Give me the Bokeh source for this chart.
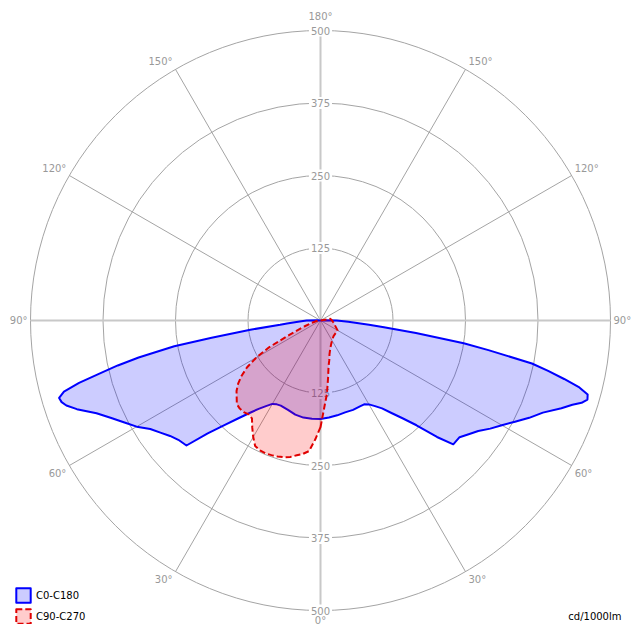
import math
from bokeh.plotting import figure
from bokeh.models import Range1d, Label, Legend
from bokeh.core.properties import value
from bokeh.embed import file_html
from bokeh.resources import INLINE

# ---------------- data (cd/1000lm, gamma in degrees from nadir) ----------------
GAMMA_C0 = [0, 5, 10, 15, 20, 25, 27.5, 30, 32.5, 35, 37.5, 40, 42.5, 45, 47, 50,
            52.5, 55, 57.5, 60, 62.5, 65, 67.5, 70, 71.5, 72.5, 73.5, 74.5, 75.5, 76.5,
            77.5, 78.5, 80, 81, 82.5, 84, 85, 87.5, 90, 92.5, 95, 180]
I_C0 = [170, 168, 166, 164, 164, 163, 163, 167, 175, 185, 201, 220, 245, 284, 313, 313,
        322, 332, 347, 361, 378, 397, 415, 442, 458, 472, 480, 478, 461, 432,
        402, 372, 294, 250, 166, 110, 84, 48, 28, 6, 0, 0]
GAMMA_C180 = [0, 5, 10, 15, 20, 25, 27.5, 30, 32.5, 35, 37.5, 40, 42.5, 45, 47, 50,
              52.5, 55, 57.5, 60, 62.5, 65, 67.5, 70, 71.5, 72.5, 73.5, 74.5, 75.5,
              76.5, 77.5, 78.5, 80, 81, 82.5, 84, 85, 87.5, 90, 92.5, 95, 180]
I_C180 = [170, 170, 170, 168, 164, 162, 163, 166, 175, 186, 201, 220, 244, 275, 316, 320,
          327, 337, 348, 366, 381, 398, 418, 447, 462, 468, 470, 459, 430,
          392, 358, 320, 256, 190, 122, 70, 58, 36, 24, 5, 0, 0]

GAMMA_C90 = [0, 2.5, 5, 7.5, 10, 12.5, 15, 20, 25, 30, 40, 50, 60, 65, 70, 80, 90, 100, 105, 180]
I_C90 = [184, 150, 127, 100, 80, 70, 60, 50, 44, 40, 35, 34, 34, 30, 27, 23, 20, 17, 0, 0]

GAMMA_C270 = [0, 2.5, 5, 7.5, 10, 12.5, 15, 17.5, 20, 22.5, 25, 27.5, 30, 32.5, 35, 37.5,
              40, 42.5, 45, 47.5, 50, 52.5, 55, 57.5, 60, 62.5, 65, 67.5, 70, 75, 80, 90, 95, 180]
I_C270 = [184, 205, 226, 232, 236, 241, 244, 246, 247, 248, 247, 244, 232, 219, 206, 204,
          206, 206, 204, 196, 189, 179, 166, 150, 128, 100, 60, 40, 29, 15, 8, 3, 0, 0]

RING_VALUES = [125, 250, 375, 500]
ANGLE_TICKS = [0, 30, 60, 90, 120, 150, 180]
SERIES_NAMES = ["C0-C180", "C90-C270"]
UNIT_LABEL = "cd/1000lm"

# ---------------- layout ----------------
W, H = 632, 624
PX = 0.58          # pixels per cd
CX, CY = 320, 320  # centre in figure pixels (from top-left)
RMAX = RING_VALUES[-1]
FONT_NAME = "DejaVu Sans"
FONT = value(FONT_NAME)
GRID_C = "#a4a4a4"
AXIS_C = "#c8c8c8"
TEXT_C = "#999999"

p = figure(width=W, height=H, output_backend="svg", toolbar_location=None,
           x_range=Range1d(-CX / PX, (W - CX) / PX),
           y_range=Range1d(-(H - CY) / PX, CY / PX),
           min_border=0)
p.axis.visible = False
p.grid.visible = False
p.outline_line_color = None
p.background_fill_color = "white"
p.border_fill_color = "white"


def rad(a):
    return math.radians(a)


def outline(g_r, i_r, g_l, i_l):
    xs = [i * math.sin(rad(g)) for g, i in zip(g_r, i_r)]
    ys = [-i * math.cos(rad(g)) for g, i in zip(g_r, i_r)]
    xs += [-i * math.sin(rad(g)) for g, i in reversed(list(zip(g_l, i_l)))]
    ys += [-i * math.cos(rad(g)) for g, i in reversed(list(zip(g_l, i_l)))]
    return xs, ys


# rings
p.circle(x=[0] * len(RING_VALUES), y=[0] * len(RING_VALUES), radius=RING_VALUES,
         fill_color=None, line_color=GRID_C, line_width=1)

# radial spokes
diag = [a for a in ANGLE_TICKS if a not in (0, 90, 180)]
sx, sy = [], []
for a in diag:
    for s in (1, -1):
        sx.append([0, s * RMAX * math.sin(rad(a))])
        sy.append([0, -RMAX * math.cos(rad(a))])
p.multi_line(sx, sy, line_color=GRID_C, line_width=1)
p.multi_line([[-RMAX, RMAX], [0, 0]], [[0, 0], [-RMAX, RMAX]],
             line_color=AXIS_C, line_width=2)

# ring value labels (top and bottom)
rl_x, rl_y, rl_t = [], [], []
for r in RING_VALUES:
    for s in (1, -1):
        rl_x.append(0)
        rl_y.append(s * r)
        rl_t.append(str(r))
p.text(x=rl_x, y=rl_y, text=rl_t, text_align="center", text_baseline="middle",
       text_font=FONT, text_font_size="10px", text_color=TEXT_C,
       background_fill_color="white", padding=2)

# angle labels
for a in ANGLE_TICKS:
    sides = (1,) if a in (0, 180) else (1, -1)
    for s in sides:
        xp = s * RMAX * math.sin(rad(a))
        yp = -RMAX * math.cos(rad(a))
        if a == 0:
            x, y, al, bl = 0, yp - 9.5 / PX, "center", "middle"
        elif a == 180:
            x, y, al, bl = 0, yp + 14 / PX, "center", "middle"
        elif a == 90:
            x, y, bl = xp + s * 3 / PX, 0, "middle"
            al = "left" if s > 0 else "right"
        else:
            x = xp + s * 3 / PX
            if a > 90:
                y, bl = yp + 2 / PX, "bottom"
            else:
                y, bl = yp - 2 / PX, "top"
            al = "left" if s > 0 else "right"
        p.text(x=[x], y=[y], text=[f"{a}°"], text_align=al, text_baseline=bl,
               text_font=FONT, text_font_size="10px", text_color=TEXT_C)

# data
bx, by = outline(GAMMA_C0, I_C0, GAMMA_C180, I_C180)
rx, ry = outline(GAMMA_C90, I_C90, GAMMA_C270, I_C270)
rb = p.patch(bx, by, fill_color="#0000ff", fill_alpha=0.2, line_color="#0000ff", line_width=2,
             line_join="round")
rr = p.patch(rx, ry, fill_color="#ff0000", fill_alpha=0.2, line_color="#e00000", line_width=2,
             line_dash="6 3", line_join="round")

legend = Legend(items=[(SERIES_NAMES[0], [rb]), (SERIES_NAMES[1], [rr])],
                location=(13, -2), padding=1, margin=0, spacing=3,
                glyph_width=18, glyph_height=18, label_height=18, label_standoff=4,
                label_text_font=FONT_NAME, label_text_font_size="10px", label_text_color="black",
                border_line_alpha=0, background_fill_alpha=0)
p.add_layout(legend)

p.add_layout(Label(x=621, y=8, x_units="screen", y_units="screen", text=UNIT_LABEL,
                   text_align="right", text_baseline="middle", text_font=FONT_NAME,
                   text_font_size="10px", text_color="black"))

open("out.html", "w").write(file_html(p, INLINE))
